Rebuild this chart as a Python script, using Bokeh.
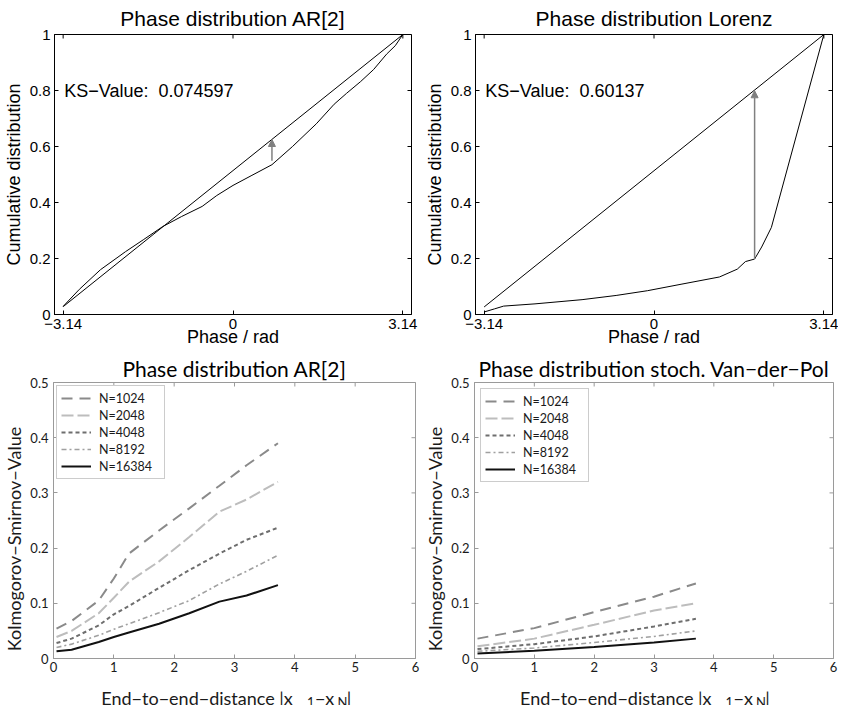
import math
from bokeh.plotting import figure
from bokeh.layouts import column, row
from bokeh.models import (LinearAxis, FixedTicker, CustomJSTickFormatter, Label,
                          Arrow, NormalHead, Legend, LegendItem, Range1d)
from bokeh.core.properties import value
from bokeh.embed import file_html
from bokeh.resources import INLINE

# ---------------- data ----------------
# Top-left: AR[2] phase distribution
ar2_phase = [-3.14, -2.84, -2.45, -1.99, -1.65, -1.30, -0.95, -0.57, -0.30, 0.0, 0.35,
             0.72, 1.10, 1.54, 1.87, 2.10, 2.36, 2.60, 2.84, 3.00, 3.14]
ar2_cdf = [0.029, 0.090, 0.160, 0.224, 0.268, 0.314, 0.350, 0.386, 0.425, 0.461, 0.497,
           0.535, 0.600, 0.681, 0.751, 0.790, 0.832, 0.875, 0.930, 0.960, 1.0]
ar2_uniform_phase = [-3.14, 3.14]
ar2_uniform_cdf = [0.028, 1.0]
ar2_ks_value = "0.074597"
ar2_ks_phase = 0.72
ar2_ks_from = 0.549
ar2_ks_to = 0.625

# Top-right: Lorenz phase distribution
lorenz_phase = [-3.14, -2.95, -2.78, -2.20, -1.33, -0.70, -0.12, 0.50, 1.21, 1.54, 1.69,
                1.86, 1.99, 2.17, 3.14]
lorenz_cdf = [0.009, 0.020, 0.030, 0.038, 0.053, 0.068, 0.085, 0.108, 0.134, 0.162, 0.189,
              0.198, 0.241, 0.311, 1.0]
lorenz_uniform_phase = [-3.14, 3.14]
lorenz_uniform_cdf = [0.027, 1.0]
lorenz_ks_value = "0.60137"
lorenz_ks_phase = 1.86
lorenz_ks_from = 0.198
lorenz_ks_to = 0.799

# Bottom: KS value vs end-to-end distance
series_labels = ["N=1024", "N=2048", "N=4048", "N=8192", "N=16384"]

ar2_dist = [0.05, 0.30, 0.75, 1.00, 1.25, 1.75, 2.25, 2.75, 3.20, 3.72]
ar2_ks_1024 = [0.054, 0.068, 0.105, 0.145, 0.190, 0.232, 0.272, 0.313, 0.350, 0.390]
ar2_ks_2048 = [0.039, 0.050, 0.082, 0.110, 0.139, 0.176, 0.220, 0.266, 0.288, 0.320]
ar2_ks_4048 = [0.028, 0.036, 0.060, 0.080, 0.095, 0.128, 0.160, 0.190, 0.215, 0.237]
ar2_ks_8192 = [0.020, 0.026, 0.042, 0.053, 0.063, 0.083, 0.105, 0.135, 0.158, 0.187]
ar2_ks_16384 = [0.013, 0.016, 0.030, 0.039, 0.047, 0.063, 0.082, 0.103, 0.114, 0.133]

vdp_dist = [0.05, 1.00, 2.00, 3.00, 3.70]
vdp_ks_1024 = [0.036, 0.055, 0.084, 0.112, 0.136]
vdp_ks_2048 = [0.022, 0.036, 0.061, 0.087, 0.100]
vdp_ks_4048 = [0.017, 0.026, 0.040, 0.058, 0.072]
vdp_ks_8192 = [0.013, 0.019, 0.029, 0.040, 0.050]
vdp_ks_16384 = [0.009, 0.014, 0.021, 0.029, 0.036]

phase_ticks = [-3.14, 0, 3.14]
cdf_ticks = [0, 0.2, 0.4, 0.6, 0.8, 1.0]
dist_ticks = [0, 1, 2, 3, 4, 5, 6]
ks_ticks = [0, 0.1, 0.2, 0.3, 0.4, 0.5]

# ---------------- styles ----------------
TOP_FONT = "Liberation Sans"
BOT_FONT = "Lato"
series_colors = ["#8a8a8a", "#bdbdbd", "#6e6e6e", "#a0a0a0", "#111111"]
series_dashes = ["11 7", "12 4", "4 3", "5 3 2 3", "solid"]
series_widths = [2, 2, 2, 1.6, 2]
BOT_FRAME = "#9a9a9a"
BOT_TEXT = "#1a1a1a"

phase_fmt = CustomJSTickFormatter(code="""
if (Math.abs(tick) < 1e-9) return '0';
return (tick < 0 ? '\u2212' : '') + Math.abs(tick).toFixed(2);
""")
dec_fmt = CustomJSTickFormatter(code="return (Math.round(tick*10)/10).toString();")

# widths / borders of the two columns (left col, right col)
COL_W = [421, 417]
TOP_BL = [47, 47]
TOP_BR = [10, 6]
BOT_BL = [47, 46]
BOT_BR = [6, 5]


def style_axis(ax, font, size, color, tick_color):
    ax.major_tick_in = 4
    ax.major_tick_out = 0
    ax.minor_tick_in = 0
    ax.minor_tick_out = 0
    ax.axis_line_color = tick_color
    ax.major_tick_line_color = tick_color
    ax.major_label_text_font = font
    ax.major_label_text_font_size = size
    ax.major_label_text_color = color
    ax.major_label_text_line_height = 1.0
    ax.axis_label_text_font = font
    ax.axis_label_text_font_style = "normal"
    ax.axis_label_text_color = color
    ax.axis_label_text_line_height = 1.0


def add_box_ticks(p, xticks, yticks, color):
    # inward ticks on the top and right edges (half of each dash is clipped by the frame)
    xr, yr = p.x_range, p.y_range
    p.scatter(x=list(xticks), y=[yr.end] * len(xticks), marker="dash", size=8,
              angle=math.pi / 2, line_color=color, line_width=1)
    p.scatter(x=[xr.end] * len(yticks), y=list(yticks), marker="dash", size=8,
              line_color=color, line_width=1)


def base_figure(width, height, x_range, y_range, bl, br, bt, bb, **kw):
    p = figure(width=width, height=height, x_range=x_range, y_range=y_range,
               output_backend="svg", toolbar_location=None,
               x_axis_type=None, y_axis_type=None,
               min_border_left=bl, min_border_right=br, min_border_top=bt, min_border_bottom=bb,
               **kw)
    p.xgrid.visible = False
    p.ygrid.visible = False
    p.background_fill_color = "white"
    p.border_fill_color = "white"
    return p


def set_title(p, text, font, standoff):
    p.title.text = text
    p.title.text_font = font
    p.title.text_font_size = "21px"
    p.title.text_font_style = "normal"
    p.title.text_color = "black"
    p.title.text_line_height = 1.0
    p.title.align = "center"
    p.title.standoff = standoff


def make_top(title, phase, cdf, uni_phase, uni_cdf, ks_value, ks_x, ks_from, ks_to, col):
    p = base_figure(COL_W[col], 352, Range1d(-3.3, 3.3), Range1d(0, 1),
                    TOP_BL[col], TOP_BR[col], 27, 38)
    p.outline_line_color = "black"
    set_title(p, title, TOP_FONT, 9)

    xa = LinearAxis(ticker=FixedTicker(ticks=phase_ticks), formatter=phase_fmt)
    style_axis(xa, TOP_FONT, "15px", "black", "black")
    xa.major_label_standoff = 4
    xa.axis_label = "Phase / rad"
    xa.axis_label_text_font_size = "18px"
    xa.axis_label_standoff = -5
    p.add_layout(xa, "below")

    ya = LinearAxis(ticker=FixedTicker(ticks=cdf_ticks), formatter=dec_fmt)
    style_axis(ya, TOP_FONT, "15px", "black", "black")
    ya.major_label_standoff = 4
    ya.axis_label = "Cumulative distribution"
    ya.axis_label_text_font_size = "18px"
    ya.axis_label_standoff = 3
    p.add_layout(ya, "left")
    add_box_ticks(p, phase_ticks, cdf_ticks, "black")

    p.line(uni_phase, uni_cdf, line_color="black", line_width=1)
    p.line(phase, cdf, line_color="black", line_width=1)
    p.add_layout(Arrow(end=NormalHead(size=7, fill_color="#808080", line_color="#808080"),
                       x_start=ks_x, y_start=ks_from, x_end=ks_x, y_end=ks_to,
                       line_color="#808080", line_width=1.5))
    p.add_layout(Label(x=-3.12, y=0.8, text="KS\u2212Value:\u00a0\u00a0" + ks_value,
                       text_baseline="middle", text_font=TOP_FONT, text_font_size="18px",
                       text_color="black"))
    return p


def make_bottom(title, dist, ks_lists, col, legend_margin):
    p = base_figure(COL_W[col], 325, Range1d(0, 6), Range1d(0, 0.5),
                    BOT_BL[col], BOT_BR[col], 25, 19)
    p.outline_line_color = BOT_FRAME
    set_title(p, title, BOT_FONT, 3)

    xa = LinearAxis(ticker=FixedTicker(ticks=dist_ticks), formatter=dec_fmt)
    style_axis(xa, BOT_FONT, "13px", BOT_TEXT, BOT_FRAME)
    xa.major_label_standoff = 3
    p.add_layout(xa, "below")

    ya = LinearAxis(ticker=FixedTicker(ticks=ks_ticks), formatter=dec_fmt)
    style_axis(ya, BOT_FONT, "13px", BOT_TEXT, BOT_FRAME)
    ya.major_label_standoff = 5
    ya.axis_label = "Kolmogorov\u2212Smirnov\u2212Value" + "\u00a0" * 8
    ya.axis_label_text_font_size = "18px"
    ya.axis_label_standoff = 2
    p.add_layout(ya, "left")
    add_box_ticks(p, dist_ticks, ks_ticks, BOT_FRAME)

    items = []
    for lab, ks, c, d, w in zip(series_labels, ks_lists, series_colors, series_dashes, series_widths):
        r = p.line(dist, ks, line_color=c, line_dash=d, line_width=w)
        items.append(LegendItem(label=lab, renderers=[r]))
    leg = Legend(items=items, location="top_left", margin=legend_margin, padding=4, spacing=1,
                 glyph_width=30, glyph_height=16, label_height=16, label_standoff=8,
                 label_width=61, border_line_color=BOT_FRAME, border_line_width=1,
                 background_fill_color="white", background_fill_alpha=1,
                 label_text_font=BOT_FONT, label_text_font_size="12.5px",
                 label_text_color=BOT_TEXT)
    p.add_layout(leg)
    return p


def make_xlabel_strip(col, height):
    s = base_figure(COL_W[col], height, Range1d(0, 6), Range1d(0, height),
                    BOT_BL[col], BOT_BR[col], 0, 0, title_location=None)
    s.outline_line_color = None
    pieces = [(4.0, 8, "End\u2212to\u2212end\u2212distance |x", "18px", "right"),
              (4.23, 3.5, "1", "13px", "left"),
              (4.36, 8, "\u2212x", "18px", "left"),
              (4.73, 3.5, "N", "13px", "left"),
              (4.88, 8, "|", "18px", "left")]
    for x, y, t, size, align in pieces:
        s.text(x=[x], y=[y], text=[t], text_font=value(BOT_FONT), text_font_size=value(size),
               text_align=align, text_baseline="alphabetic", text_color=BOT_TEXT)
    return s


p1 = make_top("Phase distribution AR[2]", ar2_phase, ar2_cdf, ar2_uniform_phase, ar2_uniform_cdf,
              ar2_ks_value, ar2_ks_phase, ar2_ks_from, ar2_ks_to, 0)
p2 = make_top("Phase distribution Lorenz", lorenz_phase, lorenz_cdf, lorenz_uniform_phase,
              lorenz_uniform_cdf, lorenz_ks_value, lorenz_ks_phase, lorenz_ks_from, lorenz_ks_to, 1)
p3 = make_bottom("Phase distribution AR[2]", ar2_dist,
                 [ar2_ks_1024, ar2_ks_2048, ar2_ks_4048, ar2_ks_8192, ar2_ks_16384], 0, 3)
p4 = make_bottom("Phase distribution stoch. Van\u2212der\u2212Pol", vdp_dist,
                 [vdp_ks_1024, vdp_ks_2048, vdp_ks_4048, vdp_ks_8192, vdp_ks_16384], 1, 6)
b1 = make_xlabel_strip(0, 28)
b2 = make_xlabel_strip(1, 28)

layout = column(row(p1, p2), row(p3, p4), row(b1, b2))
open("out.html", "w").write(file_html(layout, INLINE))
